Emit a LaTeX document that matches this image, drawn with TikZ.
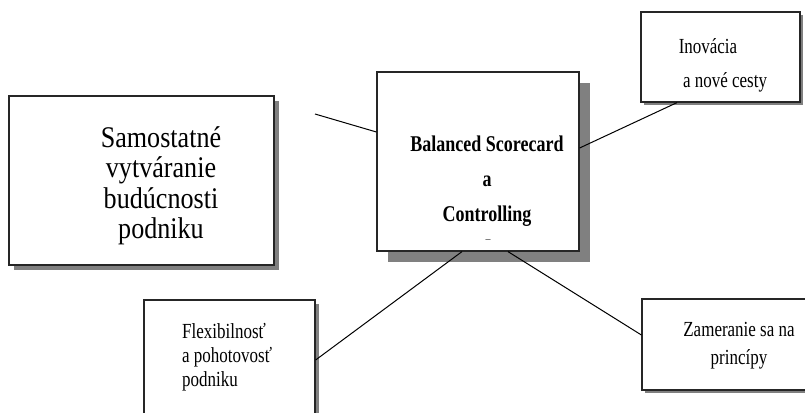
\documentclass[tikz,border=0pt]{standalone}
\usepackage{fontspec}
\setmainfont{Liberation Serif}
\newfontfamily\fsmall[FakeStretch=0.79]{Liberation Serif}
\newfontfamily\fbold[FakeStretch=0.8]{Liberation Serif}
\newfontfamily\fbig[FakeStretch=0.87]{Liberation Serif}
\usetikzlibrary{shadows}
\begin{document}
\begin{tikzpicture}[x=1pt,y=-1pt,
  box/.style={draw=black!85,line width=1.2pt,fill=white,rectangle,inner sep=0pt},
  shd/.style={drop shadow={shadow xshift=#1,shadow yshift=-#1,fill=black!50,opacity=1}},
  conn/.style={draw=black,line width=1pt},
  txt/.style={inner sep=0pt,font=\fsmall\fontsize{21.5}{24}\selectfont}
]
\useasboundingbox (0,0) rectangle (805,412);
\clip (0,0) rectangle (805,412);
% boxes
\node[box,shd=5pt,minimum width=265pt,minimum height=169pt] (L) at (141.5,180.5) {};
\node[box,shd=11pt,minimum width=202pt,minimum height=179pt] (C) at (478,161.5) {};
\node[box,shd=3pt,minimum width=159pt,minimum height=90pt] (I) at (720.5,57) {};
\node[box,shd=3.5pt,minimum width=171pt,minimum height=140pt] (F) at (229.5,370) {};
\node[box,shd=3pt,minimum width=180pt,minimum height=91pt] (Z) at (732,344.5) {};
% texts
\node[inner sep=0pt,align=center,font=\fbig\fontsize{30}{30.5}\selectfont] (Lt) at (161,186) {Samostatné\\vytváranie\\budúcnosti\\podniku};
\node[inner sep=0pt,align=center,font=\fbold\fontsize{22.5}{35}\selectfont\bfseries] (Ct) at (487,181) {Balanced Scorecard\\a\\Controlling};
\node[inner sep=0pt,font=\fontsize{10}{12}\selectfont] (Cd) at (488,241) {–};
\node[txt] (It1) at (708,46) {Inovácia};
\node[txt] (It2) at (725,82) {a nové cesty};
\node[txt,align=left,anchor=west] (Ft) at (182,357) {Flexibilnosť\\a pohotovosť\\podniku};
\node[txt,align=center,font=\fsmall\fontsize{21.5}{28}\selectfont] (Zt) at (739,346) {Zameranie sa na\\princípy};
% connectors
\coordinate (Lend) at (315,114);
\draw[conn] (Lend) -- ([yshift=29.5pt]C.west);
\draw[conn] ([yshift=13.5pt]C.east) -- ([xshift=-43.5pt]I.south);
\draw[conn] ([xshift=-16pt]C.south) -- ([yshift=10pt]F.east);
\draw[conn] ([xshift=30pt]C.south) -- ([yshift=9.5pt]Z.west);
\end{tikzpicture}
\end{document}
